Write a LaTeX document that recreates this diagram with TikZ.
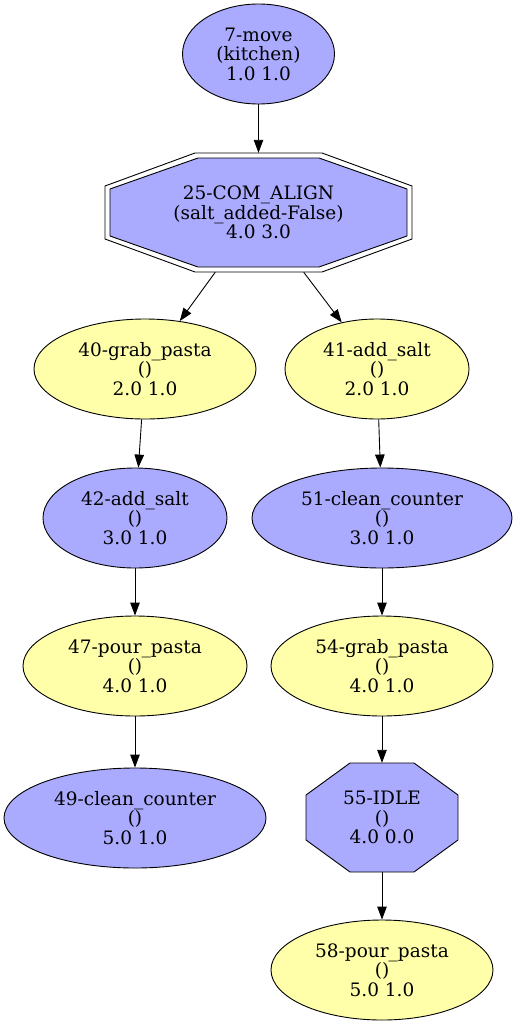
\documentclass[tikz,border=0pt]{standalone}
\usepackage{fontspec}
\setmainfont{DejaVu Serif}
\usetikzlibrary{shapes.geometric,arrows.meta,backgrounds}
\definecolor{nblue}{HTML}{AAAAFF}
\definecolor{nyellow}{HTML}{FFFFAA}
\begin{document}
\begin{tikzpicture}[x=1pt,y=-1pt,
  every node/.style={font=\fontsize{18.5}{19.5}\selectfont, align=center, inner sep=0pt},
  ell/.style={ellipse, draw, line width=0.9pt, minimum width=#1, minimum height=100pt},
  oct/.style={rectangle, draw=none},
  edge/.style={-{Triangle[length=13pt,width=9.5pt]}, line width=0.9pt},
  octline/.style={line width=0.9pt}
]
\useasboundingbox (0,0) rectangle (518,1025);

\node[ell=152pt, fill=nblue] (n7) at (258.5,54) {7-move\\(kitchen)\\1.0 1.0};
\node[oct, minimum width=307pt, minimum height=119pt] (n25) at (258.5,212.5) {25-COM\_ALIGN\\(salt\_added-False)\\4.0 3.0};
\node[ell=222pt, fill=nyellow] (n40) at (145,369) {40-grab\_pasta\\()\\2.0 1.0};
\node[ell=184pt, fill=nyellow] (n41) at (377,369) {41-add\_salt\\()\\2.0 1.0};
\node[ell=184pt, fill=nblue] (n42) at (135,518) {42-add\_salt\\()\\3.0 1.0};
\node[ell=260pt, fill=nblue] (n51) at (382,518) {51-clean\_counter\\()\\3.0 1.0};
\node[ell=224pt, fill=nyellow] (n47) at (135,666) {47-pour\_pasta\\()\\4.0 1.0};
\node[ell=222pt, fill=nyellow] (n54) at (382,666) {54-grab\_pasta\\()\\4.0 1.0};
\node[ell=262pt, fill=nblue] (n49) at (135,818) {49-clean\_counter\\()\\5.0 1.0};
\node[oct, minimum width=152pt, minimum height=109pt] (n55) at (382,817.5) {55-IDLE\\()\\4.0 0.0};
\node[ell=222pt, fill=nyellow] (n58) at (382,970) {58-pour\_pasta\\()\\5.0 1.0};

\begin{scope}[on background layer]
  \begin{scope}[shift={(n25.center)}]
    \draw[octline] (-63.5,-59.5) -- (63.5,-59.5) -- (153.5,-26.5) -- (153.5,26.5) -- (63.5,59.5) -- (-63.5,59.5) -- (-153.5,26.5) -- (-153.5,-26.5) -- cycle;
    \draw[octline, fill=nblue] (-60.5,-54.5) -- (60.5,-54.5) -- (148.5,-23.5) -- (148.5,23.5) -- (60.5,54.5) -- (-60.5,54.5) -- (-148.5,23.5) -- (-148.5,-23.5) -- cycle;
  \end{scope}
  \begin{scope}[shift={(n55.center)}]
    \draw[octline, fill=nblue] (-32,-54.5) -- (32,-54.5) -- (76,-22.5) -- (76,22.5) -- (32,54.5) -- (-32,54.5) -- (-76,22.5) -- (-76,-22.5) -- cycle;
  \end{scope}
\end{scope}

\draw[edge] (n7) -- (n25);
\draw[edge] (n25) -- (n40);
\draw[edge] (n25) -- (n41);
\draw[edge] (n40) -- (n42);
\draw[edge] (n41) -- (n51);
\draw[edge] (n42) -- (n47);
\draw[edge] (n51) -- (n54);
\draw[edge] (n47) -- (n49);
\draw[edge] (n54) -- (n55);
\draw[edge] (n55) -- (n58);
\end{tikzpicture}
\end{document}
